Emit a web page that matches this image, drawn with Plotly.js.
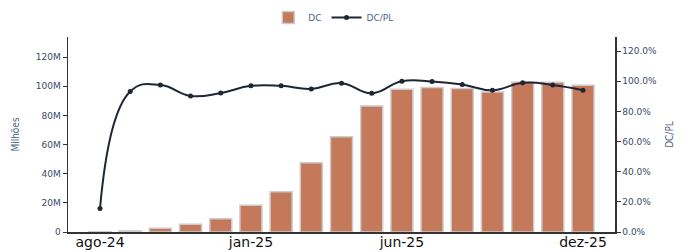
<!DOCTYPE html>
<html><head><meta charset="utf-8">
<script src="https://cdn.plot.ly/plotly-3.0.1.min.js"></script>
<style>html,body{margin:0;padding:0;background:#fff}#c{width:683px;height:250px}</style>
</head><body><div id="c"></div>
<script>
const months = ['ago-24','set-24','out-24','nov-24','dez-24','jan-25','fev-25','mar-25','abr-25','mai-25','jun-25','jul-25','ago-25','set-25','out-25','nov-25','dez-25'];
const dc = [0.2e6,0.8e6,2.5e6,5.3e6,9.1e6,18.3e6,27.6e6,47.5e6,65.3e6,86.5e6,98.0e6,99.1e6,98.4e6,96.1e6,102.7e6,102.7e6,100.7e6];
const dcpl = [0.155,0.931,0.975,0.902,0.922,0.969,0.969,0.949,0.987,0.920,1.000,0.998,0.978,0.940,0.989,0.975,0.940];
const tickLabels = ['ago-24','jan-25','jun-25','dez-25'];

const traces = [
  {type:'bar', name:'DC', x:months, y:dc,
   marker:{color:'#c47a5a', line:{color:'#cccccc', width:1.5}}},
  {type:'scatter', mode:'lines+markers', name:'DC/PL', x:months, y:dcpl, yaxis:'y2',
   line:{color:'#1e2633', width:2, shape:'spline', smoothing:1.3}, marker:{color:'#1e2633', size:5}}
];
const layout = {
  width:683, height:250,
  margin:{l:68, r:68, t:37, b:18, autoexpand:false},
  paper_bgcolor:'#fff', plot_bgcolor:'#fff',
  bargap:0.27,
  showlegend:true,
  legend:{orientation:'h', x:0.485, xanchor:'center', yref:'container', y:0.93, yanchor:'middle',
          itemwidth:30, tracegroupgap:0,
          font:{family:'DejaVu Sans, sans-serif', size:9, color:'#506784'}},
  xaxis:{type:'category', range:[-1.06,17.06], tickmode:'array', tickvals:tickLabels, ticktext:tickLabels,
         showline:true, linecolor:'#333', linewidth:1.5, ticks:'', showgrid:false, ticklabelstandoff:-3,
         tickfont:{family:'DejaVu Sans, sans-serif', size:14, color:'#111'}},
  yaxis:{range:[0,133.8e6], tickvals:[0,20e6,40e6,60e6,80e6,100e6,120e6], tickformat:'~s',
         showline:true, linecolor:'#333', linewidth:1.5, ticks:'outside', ticklen:4, tickcolor:'#333',
         showgrid:false, zeroline:false,
         tickfont:{family:'DejaVu Sans, sans-serif', size:9, color:'#3a4a66'},
         title:{text:'Milhões', font:{family:'DejaVu Sans Condensed, DejaVu Sans, sans-serif', size:10, color:'#506784'}, standoff:14}},
  yaxis2:{overlaying:'y', side:'right', range:[0,1.293], tickvals:[0,0.2,0.4,0.6,0.8,1.0,1.2], tickformat:'.1%',
          showline:true, linecolor:'#333', linewidth:1.5, ticks:'outside', ticklen:4, tickcolor:'#333',
          showgrid:false, zeroline:false,
          tickfont:{family:'DejaVu Sans, sans-serif', size:9, color:'#3a4a66'},
          title:{text:'DC/PL', font:{family:'DejaVu Sans Condensed, DejaVu Sans, sans-serif', size:10, color:'#506784'}, standoff:10}}
};
Plotly.newPlot('c', traces, layout, {displayModeBar:false, staticPlot:true});
</script></body></html>
